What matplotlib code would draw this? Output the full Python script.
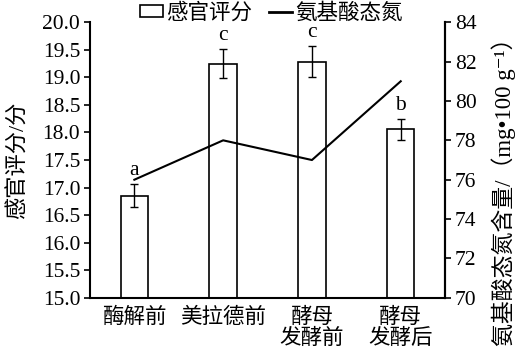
import numpy as np
import matplotlib
matplotlib.use('Agg')
import matplotlib.pyplot as plt
from matplotlib.patches import Patch
from matplotlib.lines import Line2D

plt.rcParams['font.family'] = ['Liberation Serif', 'Noto Sans CJK SC', 'DejaVu Sans']
plt.rcParams['axes.unicode_minus'] = False

# data
categories = ['酶解前', '美拉德前', '酵母\n发酵前', '酵母\n发酵后']
score = [16.85, 19.25, 19.28, 18.06]
score_err = [0.21, 0.26, 0.28, 0.19]
letters = ['a', 'c', 'c', 'b']
amino_n = [76, 78, 77, 81]

fs = 15.5
x = np.arange(len(categories))

fig = plt.figure(figsize=(5.2, 3.58), dpi=100)
ax = fig.add_axes([0.173, 0.168, 0.683, 0.770])
ax.bar(x, score, width=0.31, color='white', edgecolor='black', linewidth=1.2,
       yerr=score_err, error_kw=dict(ecolor='black', elinewidth=1.0, capsize=3, capthick=1.0),
       zorder=2)
for xi, s, e, t in zip(x, score, score_err, letters):
    ax.annotate(t, (xi, s + e), xytext=(0, 3), textcoords='offset points',
                ha='center', va='bottom', fontsize=fs)

ax.set_xlim(-0.5, 3.5)
ax.set_ylim(15, 20)
ax.set_yticks(np.arange(15, 20.01, 0.5))
ax.set_yticklabels(['%.1f' % v for v in np.arange(15, 20.01, 0.5)])
ax.set_xticks(x)
ax.set_xticklabels(categories, linespacing=1.1)
ax.tick_params(axis='x', length=0, pad=7, labelsize=fs)
ax.tick_params(axis='y', direction='out', length=4, width=1.2, pad=3, labelsize=fs)
ax.set_ylabel('感官评分/分', fontsize=16, labelpad=10)
for sp in ['left', 'bottom', 'right']:
    ax.spines[sp].set_linewidth(1.5)
ax.spines['top'].set_visible(False)

ax2 = ax.twinx()
ax2.plot(x, amino_n, color='black', linewidth=1.5, zorder=3)
ax2.set_ylim(70, 84)
ax2.set_yticks(np.arange(70, 85, 2))
ax2.tick_params(axis='y', direction='out', length=4, width=1.2, pad=3, labelsize=fs)
ax2.spines['right'].set_linewidth(1.5)
ax2.spines['top'].set_visible(False)
ax2.spines['left'].set_visible(False)
ax2.spines['bottom'].set_visible(False)
fig.text(0.968, 0.48, '氨基酸态氮含量/（mg•100 g⁻¹）', rotation=90,
         ha='center', va='center', fontsize=16.5)

handles = [Patch(facecolor='white', edgecolor='black', linewidth=1.2),
           Line2D([0], [0], color='black', linewidth=2)]
fig.legend(handles, ['感官评分', '氨基酸态氮'], loc='center', bbox_to_anchor=(0.522, 0.962),
           ncol=2, frameon=False, fontsize=fs, handlelength=1.05, handleheight=0.5,
           handletextpad=0.15, columnspacing=0.8, borderaxespad=0, borderpad=0)

fig.savefig('out.png', dpi=100)
